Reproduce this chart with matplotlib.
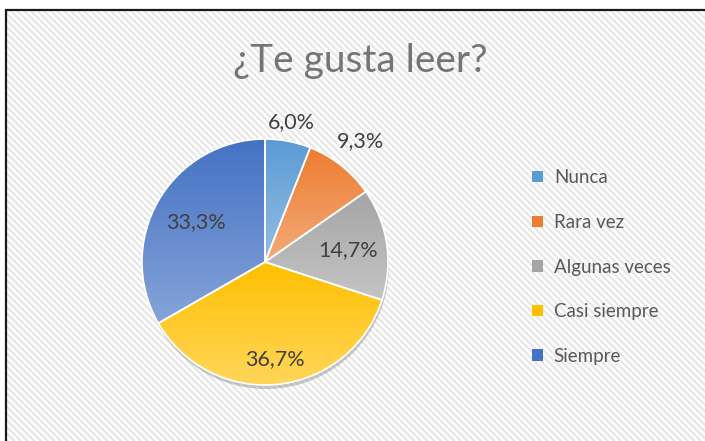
import numpy as np
import matplotlib
matplotlib.use("Agg")
import matplotlib.pyplot as plt
from matplotlib.patches import Rectangle, Circle, Patch
from matplotlib.colors import to_rgb

categorias = ["Nunca", "Rara vez", "Algunas veces", "Casi siempre", "Siempre"]
valores = [6.0, 9.3, 14.7, 36.7, 33.3]
etiquetas = ["6,0%", "9,3%", "14,7%", "36,7%", "33,3%"]
colores = ["#5B9BD5", "#ED7D31", "#A5A5A5", "#FFC000", "#4472C4"]
dist_etiqueta = [1.16, 1.25, 0.68, 0.79, 0.65]

plt.rcParams["font.family"] = ["Lato", "DejaVu Sans"]
plt.rcParams["hatch.linewidth"] = 1.5

W, H = 705, 441
fig = plt.figure(figsize=(W / 100, H / 100), dpi=100)
ax = fig.add_axes([0, 0, 1, 1])

# fondo rayado y marco
fondo = Rectangle((6, 0), W, H - 10, facecolor="white", edgecolor="#e6e6e6",
                  hatch="\\\\\\\\\\", linewidth=0, zorder=0)
ax.add_patch(fondo)
marco = Rectangle((6, -5), W + 10, H - 5, facecolor="none", edgecolor="#1a1a1a",
                  linewidth=1.6, zorder=5)
ax.add_patch(marco)

# pastel
cx, cy, r = 265, H - 262, 123
sombra = Circle((cx + 1, cy - 4), r, facecolor="#8c8c8c", alpha=0.45,
                edgecolor="none", zorder=0.5)
ax.add_patch(sombra)

wedges, _ = ax.pie(valores, colors=colores, startangle=90, counterclock=False,
                   center=(cx, cy), radius=r, frame=True,
                   wedgeprops=dict(edgecolor="white", linewidth=1.2))
ax.set_aspect("equal")
ax.axis("off")

for w, c in zip(wedges, colores):
    ext = w.get_path().get_extents()
    base = np.array(to_rgb(c))
    claro = base + (1 - base) * 0.35
    t = np.linspace(0, 1, 64)[:, None]
    grad = (base[None, :] * (1 - t) + claro[None, :] * t)[:, None, :]
    im = ax.imshow(grad, extent=[ext.x0, ext.x1, ext.y0, ext.y1], origin="upper",
                   aspect="auto", zorder=1, interpolation="bilinear")
    im.set_clip_path(w)
    w.set_facecolor("none")
    w.set_zorder(2)
ax.set_xlim(0, W)
ax.set_ylim(0, H)

for w, txt, d in zip(wedges, etiquetas, dist_etiqueta):
    ang = np.deg2rad((w.theta1 + w.theta2) / 2)
    ax.text(cx + d * r * np.cos(ang), cy + d * r * np.sin(ang), txt,
            ha="center", va="center", fontsize=15.5, color="#404040", zorder=3)

ax.text(360, H - 61, "¿Te gusta leer?", ha="center", va="center",
        fontsize=28, color="#757575", zorder=3)

handles = [Patch(facecolor=c, edgecolor="none") for c in colores]
leg = ax.legend(handles, categorias, loc="upper left", bbox_to_anchor=(0.731, 0.654),
                frameon=False, fontsize=13.5, labelspacing=1.47,
                handlelength=0.55, handleheight=0.55, handletextpad=0.6)
for t in leg.get_texts():
    t.set_color("#595959")

fig.savefig("out.png", dpi=100)
